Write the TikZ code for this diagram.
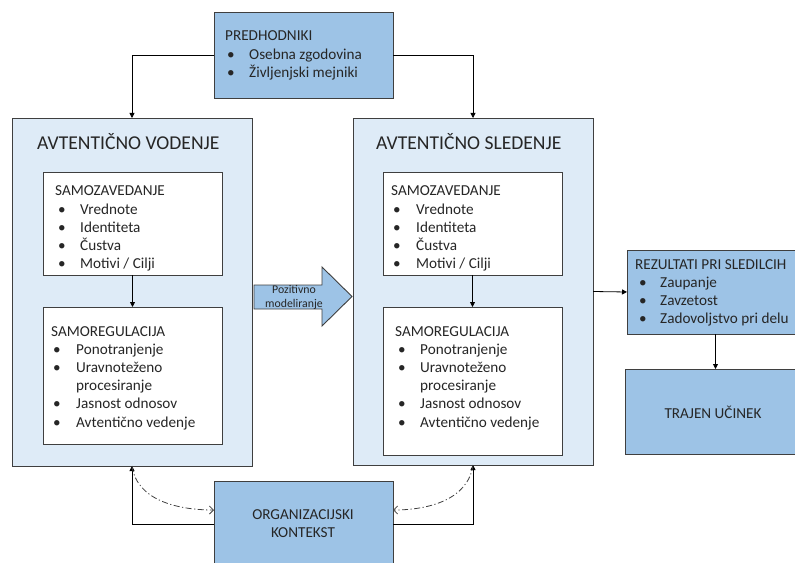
\documentclass[tikz,border=0pt]{standalone}
\usepackage{fontspec}
\setmainfont{Carlito}
\usetikzlibrary{arrows.meta,calc}
\definecolor{lightbox}{HTML}{DEEBF7}
\definecolor{midbox}{HTML}{9DC3E6}
\definecolor{edgec}{HTML}{3F3F3F}
\newcommand\bitem[3]{\hspace*{#1bp}\makebox[#2bp][l]{\textbullet}#3}
\newcommand\bodyfont{\fontsize{15.2bp}{18.2bp}\selectfont}
\newcommand\titlefont{\fontsize{19.6bp}{22bp}\selectfont}
\begin{document}
\begin{tikzpicture}[x=1bp,y=-1bp,
  boxbase/.style={draw=edgec,line width=0.9bp,inner sep=0pt,outer sep=0pt,anchor=north west},
  outerbox/.style={boxbase,fill=lightbox},
  innerbox/.style={boxbase,fill=white},
  bluebox/.style={boxbase,fill=midbox},
  txt/.style={anchor=base west,inner sep=0pt,text=black!85,font=\bodyfont},
  arr/.style={draw=black,line width=0.8bp,-{Triangle[length=5bp,width=5bp]}},
  dd/.style={draw=edgec,line width=0.8bp,dash pattern=on 6bp off 2.5bp on 1.2bp off 2.5bp,-{Straight Barb[length=4bp,width=8bp]}}
]
\useasboundingbox (0,0) rectangle (795,563);

% boxes
\node[bluebox,minimum width=179bp,minimum height=86bp] (pred) at (214,12) {};
\node[outerbox,minimum width=240bp,minimum height=348bp] (lv) at (12,118) {};
\node[innerbox,minimum width=179bp,minimum height=103bp] (lsz) at (43,172) {};
\node[innerbox,minimum width=179bp,minimum height=137bp] (lsr) at (43,307) {};
\node[outerbox,minimum width=240bp,minimum height=347bp] (rv) at (353,118) {};
\node[innerbox,minimum width=179bp,minimum height=103bp] (rsz) at (383,172) {};
\node[innerbox,minimum width=179bp,minimum height=148bp] (rsr) at (383,307) {};
\node[bluebox,minimum width=175bp,minimum height=84bp] (rez) at (627,250) {};
\node[bluebox,minimum width=177bp,minimum height=85bp] (traj) at (625,369) {};
\node[bluebox,minimum width=179bp,minimum height=86bp] (org) at (214,481) {};

% big arrow
\draw[draw=edgec,fill=midbox,line width=0.9bp] (254,285) -- (322,285) -- (322,267) -- (352,296.5) -- (322,326) -- (322,309) -- (254,309) -- cycle;
\node[inner sep=0pt,align=center,text=black!85,font=\fontsize{11.8bp}{14bp}\selectfont] (poz) at (294,297) {Pozitivno\\modeliranje};

% texts
\node[txt] (tpred) at (225,41) {\parbox[t]{170bp}{PREDHODNIKI\\\bitem{2}{22}{Osebna zgodovina}\\\bitem{2}{22}{Življenjski mejniki}}};
\node[txt,font=\titlefont] (tlv) at (37,149.5) {AVTENTIČNO VODENJE};
\node[txt,font=\titlefont] (trv) at (376,149.5) {AVTENTIČNO SLEDENJE};
\node[txt] (tlsz) at (55,196) {\parbox[t]{170bp}{SAMOZAVEDANJE\\\bitem{3}{22}{Vrednote}\\\bitem{3}{22}{Identiteta}\\\bitem{3}{22}{Čustva}\\\bitem{3}{22}{Motivi / Cilji}}};
\node[txt] (tlsr) at (51,336) {\parbox[t]{170bp}{SAMOREGULACIJA\\\bitem{2}{23}{Ponotranjenje}\\\bitem{2}{23}{Uravnoteženo}\\\hspace*{25bp}procesiranje\\\bitem{2}{23}{Jasnost odnosov}\\\bitem{2}{23}{Avtentično vedenje}}};
\node[txt] (trsz) at (391,196) {\parbox[t]{170bp}{SAMOZAVEDANJE\\\bitem{2}{23}{Vrednote}\\\bitem{2}{23}{Identiteta}\\\bitem{2}{23}{Čustva}\\\bitem{2}{23}{Motivi / Cilji}}};
\node[txt] (trsr) at (395,336) {\parbox[t]{170bp}{SAMOREGULACIJA\\\bitem{3}{22}{Ponotranjenje}\\\bitem{3}{22}{Uravnoteženo}\\\hspace*{25bp}procesiranje\\\bitem{3}{22}{Jasnost odnosov}\\\bitem{3}{22}{Avtentično vedenje}}};
\node[txt] (trez) at (635,269) {\parbox[t]{170bp}{REZULTATI PRI SLEDILCIH\\\bitem{4}{21}{Zaupanje}\\\bitem{4}{21}{Zavzetost}\\\bitem{4}{21}{Zadovoljstvo pri delu}}};
\node[inner sep=0pt,text=black!85,font=\bodyfont] (ttraj) at (713,412) {TRAJEN UČINEK};
\node[inner sep=0pt,align=center,text=black!85,font=\bodyfont] (torg) at (303,524) {ORGANIZACIJSKI\\KONTEKST};

% connectors
\draw[arr] (pred.west) -| (lv.north);
\draw[arr] (pred.east) -| (rv.north);
\draw[arr] (lsz.south) -- (lsr.north);
\draw[arr] (rsz.south) -- (rsr.north);
\draw[arr] (rv.east) -- (rez.west);
\coordinate (rezbot) at ($(rez.south)+(1,0)$);
\draw[arr] (rezbot) -- (rezbot |- traj.north);
\draw[arr] (org.west) -| (lv.south);
\draw[arr] (org.east) -| (rv.south);
\coordinate (oL) at ($(org.north west)+(0,29)$);
\coordinate (oR) at ($(org.north east)+(0,29)$);
\draw[dd] (lv.south) .. controls +(5,35) and +(-35,0) .. (oL);
\draw[dd] (rv.south) .. controls +(-5,35) and +(35,0) .. (oR);
\end{tikzpicture}
\end{document}
